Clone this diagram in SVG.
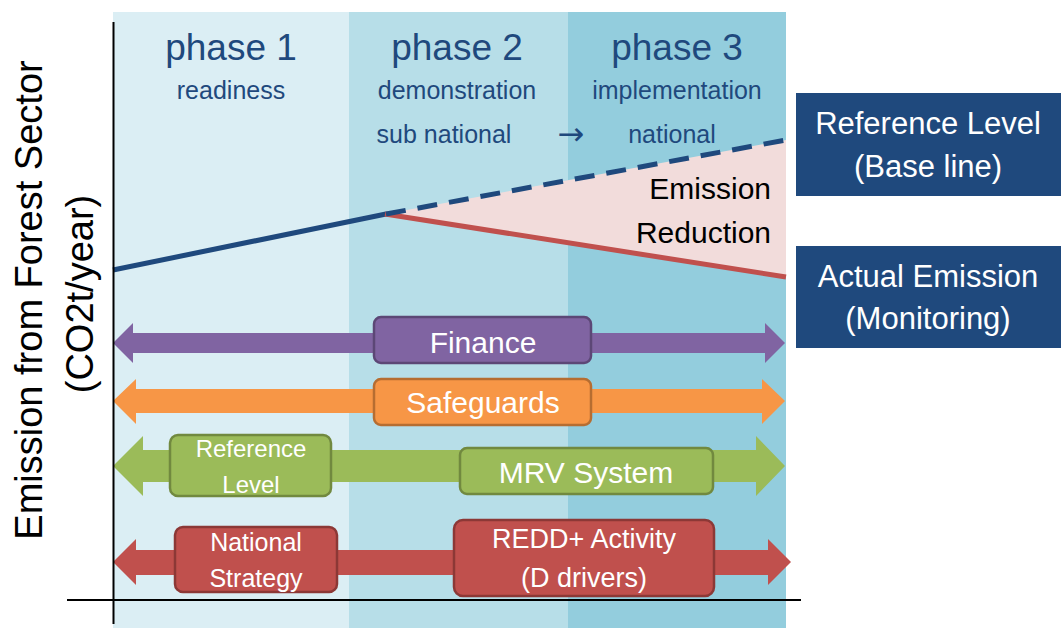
<svg xmlns="http://www.w3.org/2000/svg" width="1061" height="628" viewBox="0 0 1061 628">
<style>
.ph{font-family:"Liberation Sans",Arial,sans-serif;fill:#1F497D;text-anchor:middle}
.arr{font-family:"DejaVu Sans",sans-serif;fill:#1F497D;text-anchor:middle}
.wt{font-family:"Liberation Sans",Arial,sans-serif;fill:#FFFFFF;text-anchor:middle}
.bk{font-family:"Liberation Sans",Arial,sans-serif;fill:#000000}
.box{stroke-width:2.5}
</style>
<rect width="1061" height="628" fill="#FFFFFF"/>
<g id="bands">
<rect x="113" y="12" width="236" height="616" fill="#DBEEF4"/>
<rect x="349" y="12" width="219" height="616" fill="#B7DEE8"/>
<rect x="568" y="12" width="218" height="616" fill="#93CDDD"/>
</g>
<g id="phase-labels">
<text class="ph" x="231" y="60" font-size="37">phase 1</text>
<text class="ph" x="231" y="99" font-size="25">readiness</text>
<text class="ph" x="457" y="60" font-size="37">phase 2</text>
<text class="ph" x="457" y="99" font-size="25">demonstration</text>
<text class="ph" x="444" y="143" font-size="25">sub national</text>
<text class="arr" x="571" y="145" font-size="32">→</text>
<text class="ph" x="677" y="60" font-size="37">phase 3</text>
<text class="ph" x="677" y="99" font-size="25">implementation</text>
<text class="ph" x="672" y="143" font-size="25">national</text>
</g>
<g id="emission-chart">
<polygon points="385,214 786,140 786,277" fill="#F2DCDB"/>
<line x1="113" y1="270" x2="386" y2="214" stroke="#1F497D" stroke-width="5"/>
<line x1="385" y1="214" x2="786" y2="277" stroke="#C0504D" stroke-width="5"/>
<line x1="386" y1="214" x2="786" y2="140" stroke="#1F497D" stroke-width="5" stroke-dasharray="20,12"/>
<text class="bk" x="771" y="199" font-size="30" text-anchor="end">Emission</text>
<text class="bk" x="771" y="243" font-size="30" text-anchor="end">Reduction</text>
</g>
<g id="connectors">
<polygon points="113,343 133,323 133,333 765,333 765,323 785,343 765,363 765,353 133,353 133,363" fill="#8064A2"/>
<polygon points="113,401 136,379 136,389 762,389 762,379 785,401 762,424 762,413 136,413 136,424" fill="#F79646"/>
<polygon points="113,466 143,436 143,450 756,450 756,436 785,466 756,496 756,482 143,482 143,496" fill="#9BBB59"/>
<polygon points="113,562 136,539 136,550 768,550 768,539 791,562 768,585 768,575 136,575 136,585" fill="#C0504D"/>
</g>
<g id="axes" stroke="#000000" stroke-width="2">
<line x1="113.5" y1="22" x2="113.5" y2="624"/>
<line x1="67" y1="600" x2="801" y2="600"/>
</g>
<g id="y-label">
<text class="bk" font-size="38" text-anchor="middle" transform="translate(42,300) rotate(-90)">Emission from Forest Sector</text>
<text class="bk" font-size="38" text-anchor="middle" transform="translate(93,294) rotate(-90)">(CO2t/year)</text>
</g>
<g id="node-reference-level-baseline">
<rect x="796" y="93" width="265" height="103" fill="#1F497D"/>
<text class="wt" x="928" y="134" font-size="31">Reference Level</text>
<text class="wt" x="928" y="177" font-size="31">(Base line)</text>
</g>
<g id="node-actual-emission">
<rect x="796" y="246" width="265" height="102" fill="#1F497D"/>
<text class="wt" x="928" y="287" font-size="31">Actual Emission</text>
<text class="wt" x="928" y="329" font-size="31">(Monitoring)</text>
</g>
<g id="node-finance">
<rect class="box" x="374" y="317" width="217" height="46" rx="7" fill="#8064A2" stroke="#5C4776"/>
<text class="wt" x="483" y="353" font-size="30">Finance</text>
</g>
<g id="node-safeguards">
<rect class="box" x="374" y="379" width="217" height="46" rx="7" fill="#F79646" stroke="#B66D31"/>
<text class="wt" x="483" y="413" font-size="30">Safeguards</text>
</g>
<g id="node-reference-level">
<rect class="box" x="170" y="435" width="161" height="61" rx="8" fill="#9BBB59" stroke="#71893F"/>
<text class="wt" x="251" y="457" font-size="24">Reference</text>
<text class="wt" x="251" y="493" font-size="24">Level</text>
</g>
<g id="node-mrv-system">
<rect class="box" x="460" y="448" width="253" height="46" rx="7" fill="#9BBB59" stroke="#71893F"/>
<text class="wt" x="586" y="483" font-size="30">MRV System</text>
</g>
<g id="node-national-strategy">
<rect class="box" x="175" y="527" width="162" height="65" rx="8" fill="#C0504D" stroke="#8C3836"/>
<text class="wt" x="256" y="551" font-size="25">National</text>
<text class="wt" x="256" y="587" font-size="25">Strategy</text>
</g>
<g id="node-redd-activity">
<rect class="box" x="454" y="520" width="260" height="76" rx="9" fill="#C0504D" stroke="#8C3836"/>
<text class="wt" x="584" y="548" font-size="27">REDD+ Activity</text>
<text class="wt" x="584" y="587" font-size="27">(D drivers)</text>
</g>
</svg>
